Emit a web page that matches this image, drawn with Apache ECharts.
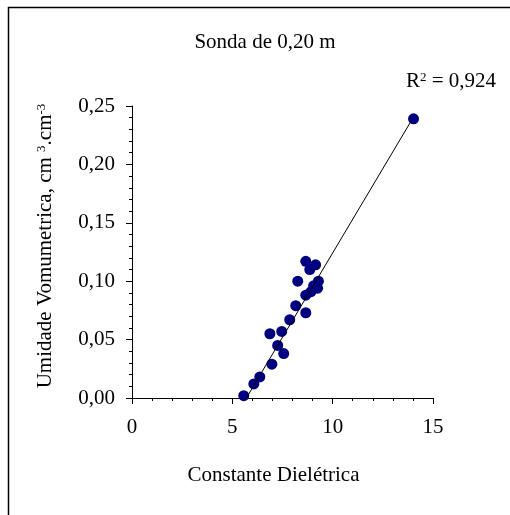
<!DOCTYPE html>
<html><head><meta charset="utf-8">
<script src="https://cdn.jsdelivr.net/npm/echarts@6/dist/echarts.min.js"></script>
<style>html,body{margin:0;padding:0;background:#fff}#c{width:510px;height:515px}</style>
</head><body><div id="c"></div>
<script>
const dielectric = [5.57, 6.07, 6.37, 6.97, 7.56, 7.26, 6.87, 7.46, 7.86, 8.16, 8.66, 8.66, 8.92, 9.25, 9.29, 8.26, 8.86, 9.15, 8.66, 9.05, 14.03];
const moisture = [0.002, 0.012, 0.018, 0.029, 0.038, 0.045, 0.055, 0.057, 0.067, 0.079, 0.073, 0.088, 0.091, 0.094, 0.100, 0.100, 0.110, 0.114, 0.117, 0.096, 0.239];
const trendX = [5.70, 13.92];
const trendY = [0.0, 0.2374];
const xTicks = [0, 5, 10, 15];
const yTicks = [0, 0.05, 0.10, 0.15, 0.20, 0.25];
const titleText = 'Sonda de 0,20 m';
const r2Text = '0,924';

const font = '"Liberation Serif", "Times New Roman", serif';
const FS = 21;
const chart = echarts.init(document.getElementById('c'));
chart.setOption({
  animation: false,
  backgroundColor: '#fff',
  textStyle: { fontFamily: font },
  graphic: [{
    type: 'rect', shape: { x: 8.5, y: 7.5, width: 700, height: 700 },
    style: { fill: 'none', stroke: '#000', lineWidth: 1.5 }
  }],
  title: [{
    text: titleText, left: 260, top: 27, textAlign: 'center',
    textStyle: { fontFamily: font, fontSize: FS, fontWeight: 'normal', color: '#000' }
  }, {
    text: '{a|R}{s|2}{a| = ' + r2Text + '}', right: 9, top: 66,
    textStyle: { fontFamily: font, fontSize: FS, fontWeight: 'normal', color: '#000',
      rich: { a: { fontFamily: font, fontSize: FS, color: '#000' },
              s: { fontFamily: font, fontSize: 13, color: '#000', verticalAlign: 'top', padding: [0, 0, 8, 0] } } }
  }],
  grid: { left: 132, top: 106, width: 301, height: 292, containLabel: false },
  xAxis: {
    type: 'value', min: xTicks[0], max: xTicks[xTicks.length - 1], interval: 5,
    name: 'Constante Dielétrica', nameLocation: 'middle', nameGap: 67,
    nameTextStyle: { fontFamily: font, fontSize: FS, color: '#000', padding: [0, 18, 0, 0] },
    axisLine: { show: true, onZero: false, lineStyle: { color: '#000', width: 1 } },
    axisTick: { show: true, length: 6, lineStyle: { color: '#000' } },
    minorTick: { show: true, splitNumber: 5, length: 3, lineStyle: { color: '#000' } },
    splitLine: { show: false },
    axisLabel: { fontFamily: font, fontSize: FS, color: '#000', margin: 19 }
  },
  yAxis: {
    type: 'value', min: yTicks[0], max: yTicks[yTicks.length - 1], interval: 0.05,
    name: '{a|Umidade Vomumetrica, cm }{s|3}{a|.cm}{s|-3}', nameLocation: 'middle', nameGap: 76,
    nameTextStyle: { fontFamily: font, fontSize: FS, color: '#000', padding: [0, 0, 0, 12],
      rich: { a: { fontFamily: font, fontSize: FS, color: '#000' },
              s: { fontFamily: font, fontSize: 13, color: '#000', verticalAlign: 'top', padding: [0, 0, 8, 0] } } },
    axisLine: { show: true, onZero: false, lineStyle: { color: '#000', width: 1 } },
    axisTick: { show: true, length: 6, lineStyle: { color: '#000' } },
    minorTick: { show: true, splitNumber: 5, length: 3, lineStyle: { color: '#000' } },
    splitLine: { show: false },
    axisLabel: { fontFamily: font, fontSize: FS, color: '#000', margin: 17,
      formatter: v => v.toFixed(2).replace('.', ',') }
  },
  series: [{
    type: 'line', data: trendX.map((x, i) => [x, trendY[i]]),
    showSymbol: false, symbol: 'none', lineStyle: { color: '#000', width: 1 }, z: 3
  }, {
    type: 'scatter', data: dielectric.map((x, i) => [x, moisture[i]]),
    symbolSize: 11, itemStyle: { color: '#000080', opacity: 1 }, z: 2
  }]
});
</script></body></html>
